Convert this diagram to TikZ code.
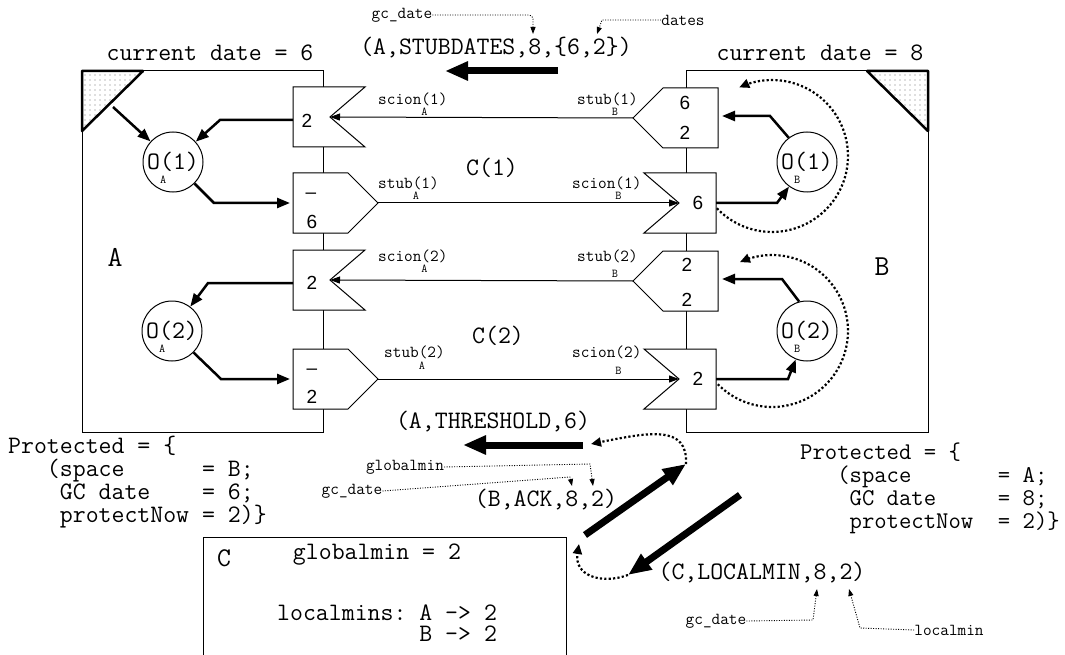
\documentclass[tikz,border=0pt]{standalone}
\usepackage{fontspec}
\newfontfamily\digits{Liberation Sans}
\usetikzlibrary{arrows.meta,patterns.meta}
\setlength{\lineskiplimit}{-100pt}
\newcommand{\sublab}[4][10pt]{#2\makebox[0pt][l]{\raisebox{-#1}[0pt][0pt]{\fontsize{12}{13}\selectfont #4}}#3}
\tikzset{
txt/.style={inner sep=0pt,font=\ttfamily\fontsize{25.1}{23}\selectfont\frenchspacing},
small/.style={inner sep=0pt,font=\ttfamily\fontsize{16.8}{18}\selectfont},
big/.style={inner sep=0pt,font=\ttfamily\fontsize{29}{30}\selectfont},
num/.style={inner sep=0pt,font=\digits\fontsize{19}{20}\selectfont},
frame/.style={line width=1pt},
boxline/.style={draw,fill=white,line width=1pt},
obj/.style={circle,draw,line width=1pt,minimum size=60pt,inner sep=0pt,font=\ttfamily\fontsize{25.1}{26}\selectfont},
corner/.style={line width=2.5pt,line join=round,pattern={Dots[distance=5pt,radius=0.6pt]},pattern color=black!55},
conn/.style={-{Triangle[length=10pt,width=7pt]},line width=1pt},
loc/.style={-{Triangle[length=13pt,width=10pt]},line width=2.5pt},
msg/.style={-{Triangle[length=23pt,width=18pt]},line width=7pt},
seq/.style={-{Triangle[length=10pt,width=9pt]},line width=2.2pt,dash pattern=on 2.2pt off 2.2pt},
note/.style={-{Triangle[length=7pt,width=5pt]},line width=0.9pt,dash pattern=on 1pt off 1.5pt},
stubA/.pic={\draw[boxline] (0,0) -- (55,0) -- (85,30) -- (55,60) -- (0,60) -- cycle;
\coordinate (-tip) at (85,30); \coordinate (-w) at (-3,30);},
scionA/.pic={\draw[boxline] (0,0) -- (72,0) -- (37,30) -- (72,60) -- (0,60) -- cycle;
\coordinate (-in) at (37,30); \coordinate (-w) at (0,33);},
stubB/.pic={\draw[boxline] (0,30) -- (30,0) -- (85,0) -- (85,60) -- (30,60) -- cycle;
\coordinate (-tip) at (0,30); \coordinate (-e) at (89,28);},
scionB/.pic={\draw[boxline] (0,0) -- (72,0) -- (72,60) -- (0,60) -- (35,30) -- cycle;
\coordinate (-in) at (35,30); \coordinate (-e) at (72,30);}
}
\begin{document}
\begin{tikzpicture}[x=1pt,y=-1pt]
\useasboundingbox (0,0) rectangle (1065,655);
\draw[frame] (82,71) rectangle (323,432);
\draw[frame] (686,71) rectangle (928,432);
\draw[corner] (82,71) -- (143,71) -- (82,131) -- cycle;
\draw[corner] (867,71) -- (928,71) -- (928,131) -- cycle;
\node[txt] (curA) at (210,53) {current date = 6};
\node[txt] (curB) at (820,53) {current date = 8};
\node[big] (spA) at (115,257) {A};
\node[big] (spB) at (882,267) {B};
\pic (scA1) at (293,87) {scionA};
\pic (stA1) at (293,173) {stubA};
\pic (scA2) at (293,250) {scionA};
\pic (stA2) at (293,349) {stubA};
\pic (stB1) at (633,88) {stubB};
\pic (scB1) at (644,173) {scionB};
\pic (stB2) at (633,251) {stubB};
\pic (scB2) at (644,349) {scionB};
\node[num] (nA1) at (307,121) {2};
\node[num,anchor=base] (dA1) at (311,199) {\textendash};
\node[num] (nA2) at (312,222) {6};
\node[num] (nA3) at (312,283) {2};
\node[num,anchor=base] (dA2) at (312,374) {\textendash};
\node[num] (nA4) at (312,397) {2};
\node[num] (nB1) at (685,103) {6};
\node[num] (nB2) at (685,133) {2};
\node[num] (nB3) at (698,203) {6};
\node[num] (nB4) at (687,265) {2};
\node[num] (nB5) at (687,300) {2};
\node[num] (nB6) at (698,379) {2};
\node[obj] (oA1) at (173,162) {\sublab[14pt]{O}{(1)}{A}};
\node[obj] (oA2) at (172,331) {\sublab[14pt]{O}{(2)}{A}};
\node[obj] (oB1) at (807,162) {\sublab[14pt]{O}{(1)}{B}};
\node[obj] (oB2) at (807,331) {\sublab[14pt]{O}{(2)}{B}};
\coordinate (cornA) at (113,107);
\draw[loc] (cornA) -- (oA1);
\draw[loc] (scA1-w) -- (220,120) -- (oA1);
\draw[loc] (oA1.-45) -- (214,203) -- (stA1-w);
\draw[loc] (scA2-w) -- (208,283) -- (oA2);
\draw[loc] (oA2.-45) -- (221,379) -- (stA2-w);
\draw[loc] (oB1.127) -- (770,116) -- (stB1-e);
\draw[loc] (scB1-e) -- (777,203) -- (oB1);
\draw[loc] (oB2.105) -- (782,279) -- (stB2-e);
\draw[loc] (scB2-e) -- (788,379) -- (oB2);
\draw[seq] plot[smooth,samples=40,domain=0:1,variable=\t] ({772+76*cos(136.5-252.1*\t)},{156+76*sin(136.5-252.1*\t)});
\draw[seq] plot[smooth,samples=40,domain=0:1,variable=\t] ({772+76*cos(135.5-250.5*\t)},{331+76*sin(135.5-250.5*\t)});
\draw[conn] (stB1-tip) -- (scA1-in);
\draw[conn] (stA1-tip) -- (scB1-in);
\draw[conn] (stB2-tip) -- (scA2-in);
\draw[conn] (stA2-tip) -- (scB2-in);
\node[small,anchor=west] (lscA1) at (378,99) {\sublab[11.5pt]{scion}{(1)}{A}};
\node[small,anchor=west] (lstB1) at (577,99) {\sublab[11.5pt]{stub}{(1)}{B}};
\node[small,anchor=west] (lstA1) at (378,183) {\sublab[11pt]{stub}{(1)}{A}};
\node[small,anchor=west] (lscB1) at (572,183) {\sublab[11pt]{scion}{(1)}{B}};
\node[small,anchor=west] (lscA2) at (378,256) {\sublab[11pt]{scion}{(2)}{A}};
\node[small,anchor=west] (lstB2) at (577,256) {\sublab[16pt]{stub}{(2)}{B}};
\node[small,anchor=west] (lstA2) at (384,352) {\sublab[12pt]{stub}{(2)}{A}};
\node[small,anchor=west] (lscB2) at (572,352) {\sublab[17pt]{scion}{(2)}{B}};
\node[txt] (c1) at (492,168) {C(1)};
\node[txt] (c2) at (498,336) {C(2)};
\node[txt] (mStub) at (496,48) {(A,STUBDATES,8,\{6,2\})};
\node[small] (gcd1) at (402,15) {gc\_date};
\node[small] (dates) at (683,20) {dates};
\draw[note,rounded corners=4pt] (gcd1.east) -| (533,34);
\draw[note] (dates.west) -- (602,20) -- (597,34);
\coordinate (m1s) at (558,71);
\coordinate (m1e) at (445,71);
\draw[msg] (m1s) -- (m1e);
\node[txt,anchor=north west,align=left] (protA) at (8,436) {Protected = \{\\
~~~(space~~~~~~=~B;\\
~~~~GC~date~~~~=~6;\\
~~~~protectNow~=~2)\}};
\node[txt,anchor=north west,align=left,font=\ttfamily\fontsize{24}{23}\selectfont\frenchspacing] (protB) at (800,443) {Protected = \{\\
~~~(space~~~~~~~=~A;\\
~~~~GC~date~~~~~=~8;\\
~~~~protectNow~~=~2)\}};
\node[txt] (mThr) at (493,422) {(A,THRESHOLD,6)};
\node[small] (glob) at (405,467) {globalmin};
\node[small] (gcd2) at (352,491) {gc\_date};
\node[txt] (mAck) at (546,500) {(B,ACK,8,2)};
\node[txt] (mLoc) at (762,573) {(C,LOCALMIN,8,2)};
\node[small] (gcd3) at (716,621) {gc\_date};
\node[small] (lmin) at (949,630) {localmin};
\draw[note] (glob.east) -- (590,464) -- (593,486);
\draw[note] (gcd2.east) -- (570,477) -- (572,486);
\draw[note] (gcd3.east) -- (813,620) -- (817,589);
\draw[note] (lmin.west) -- (860,628) -- (849,589);
\coordinate (m2s) at (583,445);
\coordinate (m2e) at (463,445);
\coordinate (m3s) at (585,535);
\coordinate (m3e) at (686,464);
\coordinate (m4s) at (740,495);
\coordinate (m4e) at (628,575);
\draw[msg] (m2s) -- (m2e);
\draw[msg] (m3s) -- (m3e);
\draw[msg] (m4s) -- (m4e);
\draw[seq] (m3e) .. controls (688,425) and (650,432) .. (591,444);
\draw[seq] (m4e) .. controls (600,585) and (574,575) .. (579,544);
\draw[frame] (203,656) |- (566,537) -- (566,656);
\node[big,font=\ttfamily\fontsize{27}{28}\selectfont] (spC) at (224,558) {C};
\node[txt] (gmin) at (377,555) {globalmin = 2};
\node[txt,anchor=north west,align=left,font=\ttfamily\fontsize{25.1}{21}\selectfont\frenchspacing] (lmins) at (277,605) {localmins:~A~->~2\\
~~~~~~~~~~~B~->~2};
\end{tikzpicture}
\end{document}
